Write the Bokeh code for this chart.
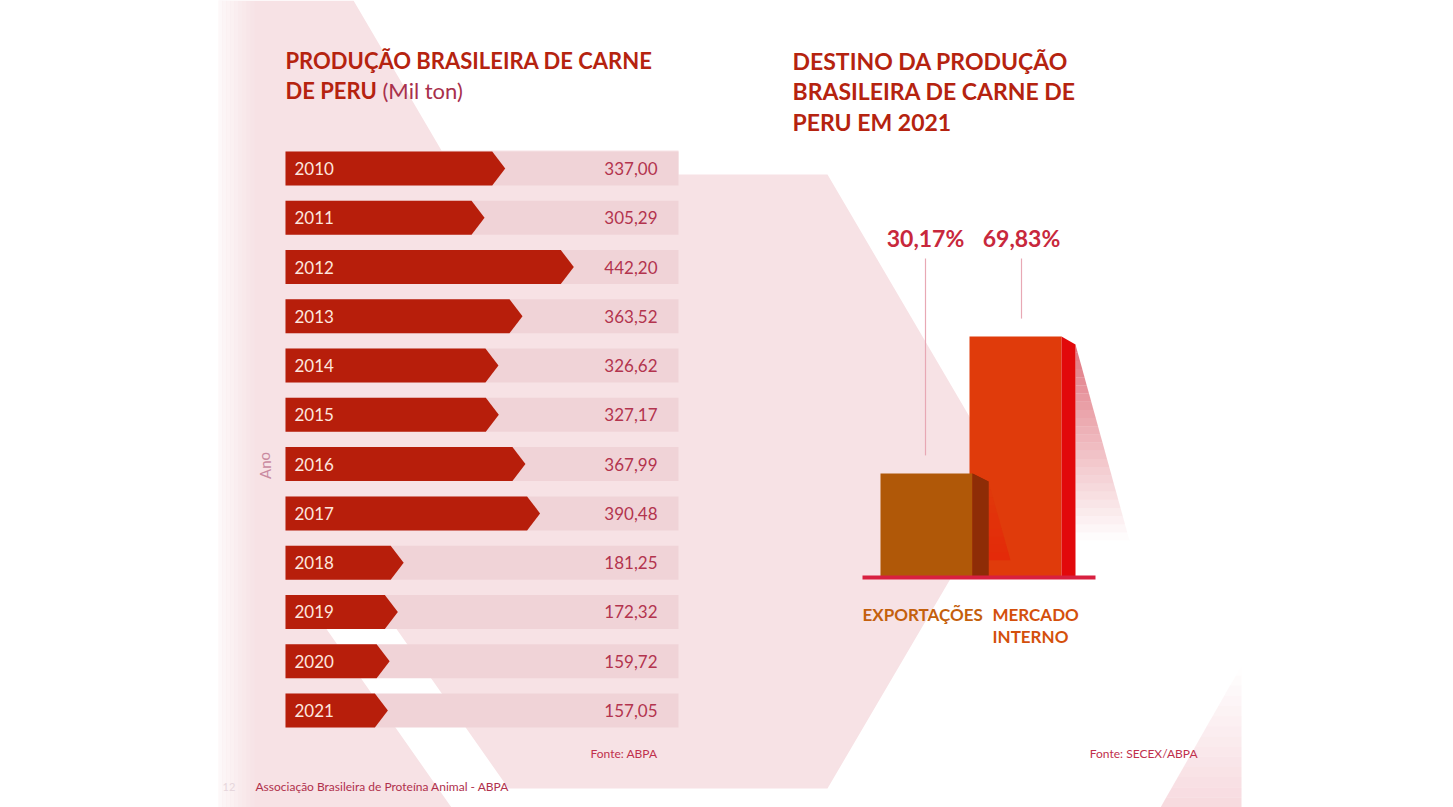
from bokeh.plotting import figure
from bokeh.models import Range1d
from bokeh.embed import file_html
from bokeh.resources import INLINE
from bokeh.core.properties import value

# ---------------- data ----------------
years = [2010, 2011, 2012, 2013, 2014, 2015, 2016, 2017, 2018, 2019, 2020, 2021]
year_labels = ["2010", "2011", "2012", "2013", "2014", "2015", "2016", "2017", "2018", "2019", "2020", "2021"]
production = [337.00, 305.29, 442.20, 363.52, 326.62, 327.17, 367.99, 390.48, 181.25, 172.32, 159.72, 157.05]
production_labels = ["337,00", "305,29", "442,20", "363,52", "326,62", "327,17",
                     "367,99", "390,48", "181,25", "172,32", "159,72", "157,05"]
dest_categories = ["EXPORTAÇÕES", "MERCADO INTERNO"]
dest_shares = [30.17, 69.83]
dest_labels = ["30,17%", "69,83%"]

FONT = value("Lato")

# ---------------- layout constants ----------------
W, H = 1453, 807
PX0, PY0 = 0, 0                      # page offset
# left chart scales
VX0, VSX = 285.0, 0.652              # pixel of value 0, px per unit
YY0, YDY = 168.0, 49.27              # pixel of first year, px per year
SCALE_MAX = (678 - VX0) / VSX        # end of background track
# right chart scales
CX0, CSX = 926.0, 89.0               # pixel of category 0, px per category
PB0, PSY = 577.0, 3.45               # pixel of 0 %, px per %

p = figure(width=W, height=H, x_range=Range1d(PX0, PX0 + W), y_range=Range1d(PY0 + H, PY0),
           output_backend="svg", toolbar_location=None, min_border=0,
           x_axis_location=None, y_axis_location=None)
p.grid.visible = False
p.outline_line_color = None
p.background_fill_color = "white"
p.border_fill_color = "white"

p.extra_x_ranges = {
    "val": Range1d((PX0 - VX0) / VSX, (PX0 + W - VX0) / VSX),
    "cat": Range1d((PX0 - CX0) / CSX, (PX0 + W - CX0) / CSX),
}
p.extra_y_ranges = {
    "yr": Range1d(years[0] + (PY0 + H - YY0) / YDY, years[0] + (PY0 - YY0) / YDY),
    "pct": Range1d((PB0 - (PY0 + H)) / PSY, (PB0 - PY0) / PSY),
}

# ---------------- decorative background (page coordinates) ----------------
BG_PINK = "#f7e2e5"
bg_main = [(218, 0), (353, 0), (441, 150), (678, 150), (678, 174), (827, 174), (1007, 481),
           (827, 788), (508, 788), (376, 600), (306, 600), (451, 807), (218, 807)]
p.patch([a for a, b in bg_main], [b for a, b in bg_main], fill_color=BG_PINK, line_color=None)

# soft fade on the left slide edge
for i in range(12):
    p.quad(left=206 + i * 4, right=210 + i * 4, top=0, bottom=807,
           fill_color="white", fill_alpha=1 - i / 12, line_color=None)


def gradient_triangle(apex_top, base_left, base_right, color, a_top, a_bot, n=14, xr=None, yr=None):
    """Draw a triangle-like shape as horizontal bands with varying alpha."""
    (tx, ty), (lx, ly), (rx, ry) = apex_top, base_left, base_right
    kw = {}
    if xr:
        kw["x_range_name"] = xr
    if yr:
        kw["y_range_name"] = yr
    for k in range(n):
        f0, f1 = k / n, (k + 1) / n
        l0 = (tx + (lx - tx) * f0, ty + (ly - ty) * f0)
        l1 = (tx + (lx - tx) * f1, ty + (ly - ty) * f1)
        r0 = (tx + (rx - tx) * f0, ty + (ry - ty) * f0)
        r1 = (tx + (rx - tx) * f1, ty + (ry - ty) * f1)
        a = a_top + (a_bot - a_top) * (k + 0.5) / n
        p.patch([l0[0], r0[0], r1[0], l1[0]], [l0[1], r0[1], r1[1], l1[1]],
                fill_color=color, fill_alpha=a, line_color=None, **kw)


# faint triangle bottom right
gradient_triangle((1241, 665), (1241, 807), (1160, 807), "#f3c9d0", 0.0, 0.7)

# ---------------- left chart: production ----------------
BAR_H = 34 / YDY
TIP = 13 / VSX
p.hbar(y=years, left=0, right=SCALE_MAX, height=BAR_H, fill_color="#f0d3d7", line_color=None,
       x_range_name="val", y_range_name="yr")
xs, ys = [], []
for y, v in zip(years, production):
    xs.append([0, v - TIP, v, v - TIP, 0])
    ys.append([y - BAR_H / 2, y - BAR_H / 2, y, y + BAR_H / 2, y + BAR_H / 2])
p.patches(xs, ys, fill_color="#b71e0b", line_color=None, x_range_name="val", y_range_name="yr")

p.text(x=[0] * len(years), y=years, text=year_labels, x_offset=9, text_font=FONT,
       text_font_size="17px", text_color="#fde6de", text_baseline="middle", text_align="left",
       x_range_name="val", y_range_name="yr")
p.text(x=[SCALE_MAX] * len(years), y=years, text=production_labels, x_offset=-21, text_font=FONT,
       text_font_size="17px", text_color="#b3344e", text_baseline="middle", text_align="right",
       x_range_name="val", y_range_name="yr")

# titles / notes (page coordinates)
TITLE_RED = "#b5230f"
p.text(x=[285], y=[60], text=["PRODUÇÃO BRASILEIRA DE CARNE"], text_font=FONT, text_font_style="bold",
       text_font_size="22px", text_color=TITLE_RED, text_baseline="middle")
p.text(x=[285], y=[90], text=["DE PERU"], text_font=FONT, text_font_style="bold",
       text_font_size="22px", text_color=TITLE_RED, text_baseline="middle")
p.text(x=[382], y=[90], text=["(Mil ton)"], text_font=FONT,
       text_font_size="22px", text_color="#a8304c", text_baseline="middle")
p.text(x=[264], y=[465], text=["Ano"], angle=1.5708, text_font=FONT, text_font_size="15px",
       text_color="#c98aa0", text_baseline="middle", text_align="center")
p.text(x=[657], y=[753], text=["Fonte: ABPA"], text_font=FONT, text_font_size="12px",
       text_color="#c0304c", text_baseline="middle", text_align="right")
p.text(x=[255], y=[786], text=["Associação Brasileira de Proteína Animal - ABPA"], text_font=FONT,
       text_font_size="12px", text_color="#b0304c", text_baseline="middle")
p.text(x=[222], y=[786], text=["12"], text_font=FONT, text_font_size="11px",
       text_color="#e6d6dc", text_baseline="middle")

for i, line in enumerate(["DESTINO DA PRODUÇÃO", "BRASILEIRA DE CARNE DE", "PERU EM 2021"]):
    p.text(x=[792], y=[60 + i * 30.5], text=[line], text_font=FONT, text_font_style="bold",
           text_font_size="23px", text_color=TITLE_RED, text_baseline="middle")
p.text(x=[1197], y=[753], text=["Fonte: SECEX/ABPA"], text_font=FONT, text_font_size="12px",
       text_color="#c0304c", text_baseline="middle", text_align="right")

# ---------------- right chart: destination ----------------
BW = 92 / CSX
DEPTH = [16 / CSX, 14 / CSX]
SLANT = 8 / PSY
front_colors = ["#b05808", "#e03b0b"]
side_colors = ["#8e2c06", "#e2090b"]
pos = [0, 1]

# reflection behind mercado interno
xm = pos[1] + BW / 2 + DEPTH[1]
gradient_triangle((xm, dest_shares[1] - SLANT), (xm, 10.7), (xm + 54 / CSX, 10.7),
                  "#dc6470", 0.9, 0.0, n=24, xr="cat", yr="pct")

# draw mercado (behind) first, then exportações
for i in [1, 0]:
    x, v = pos[i], dest_shares[i]
    p.vbar(x=[x], top=[v], bottom=0, width=BW, fill_color=front_colors[i], line_color=None,
           x_range_name="cat", y_range_name="pct")
    xr_ = x + BW / 2
    p.patch([xr_, xr_, xr_ + DEPTH[i], xr_ + DEPTH[i]], [0, v, v - SLANT, 0],
            fill_color=side_colors[i], line_color=None, x_range_name="cat", y_range_name="pct")
    if i == 1:
        # red wedge cast by exportações onto mercado
        xe = pos[0] + BW / 2 + DEPTH[0]
        gradient_triangle((xe, dest_shares[0] - SLANT), (xe, 5), (xe + 22 / CSX, 5),
                          "#e81808", 0.0, 0.5, n=10, xr="cat", yr="pct")

# exportações side above the wedge
xr0 = pos[0] + BW / 2
p.patch([xr0, xr0, xr0 + DEPTH[0], xr0 + DEPTH[0]], [0, dest_shares[0], dest_shares[0] - SLANT, 0],
        fill_color=side_colors[0], line_color=None, x_range_name="cat", y_range_name="pct")

# baseline
p.segment(x0=[pos[0] - BW / 2 - 18 / CSX], x1=[pos[1] + BW / 2 + DEPTH[1] + 20 / CSX], y0=[0], y1=[0],
          line_color="#d82040", line_width=4, x_range_name="cat", y_range_name="pct")

# leader lines and labels
LABEL_TOP = (PB0 - 258) / PSY
lx = [p_ + dx for p_, dx in zip(pos, [-1 / CSX, 6 / CSX])]
p.segment(x0=lx, x1=lx, y0=[LABEL_TOP] * 2, y1=[v + 18 / PSY for v in dest_shares],
          line_color="#e8a8b4", line_width=1.2, x_range_name="cat", y_range_name="pct")
p.text(x=lx, y=[(PB0 - 237) / PSY] * 2, text=dest_labels, text_font=FONT, text_font_style="bold",
       text_font_size="23px", text_color="#c8283c", text_baseline="middle", text_align="center",
       x_range_name="cat", y_range_name="pct")

cat_colors = ["#c4600c", "#d4500c"]
p.text(x=[pos[0]], y=[(PB0 - 614) / PSY], text=[dest_categories[0]], x_offset=-64,
       text_font=FONT, text_font_style="bold", text_font_size="17px", text_color=cat_colors[0],
       text_baseline="middle", text_align="left", x_range_name="cat", y_range_name="pct")
words = dest_categories[1].split(" ")
p.text(x=[pos[1], pos[1]], y=[(PB0 - 614) / PSY, (PB0 - 636) / PSY], text=words, x_offset=-23,
       text_font=FONT, text_font_style="bold", text_font_size="17px", text_color=cat_colors[1],
       text_baseline="middle", text_align="left", x_range_name="cat", y_range_name="pct")

open("out.html", "w").write(file_html(p, INLINE))
